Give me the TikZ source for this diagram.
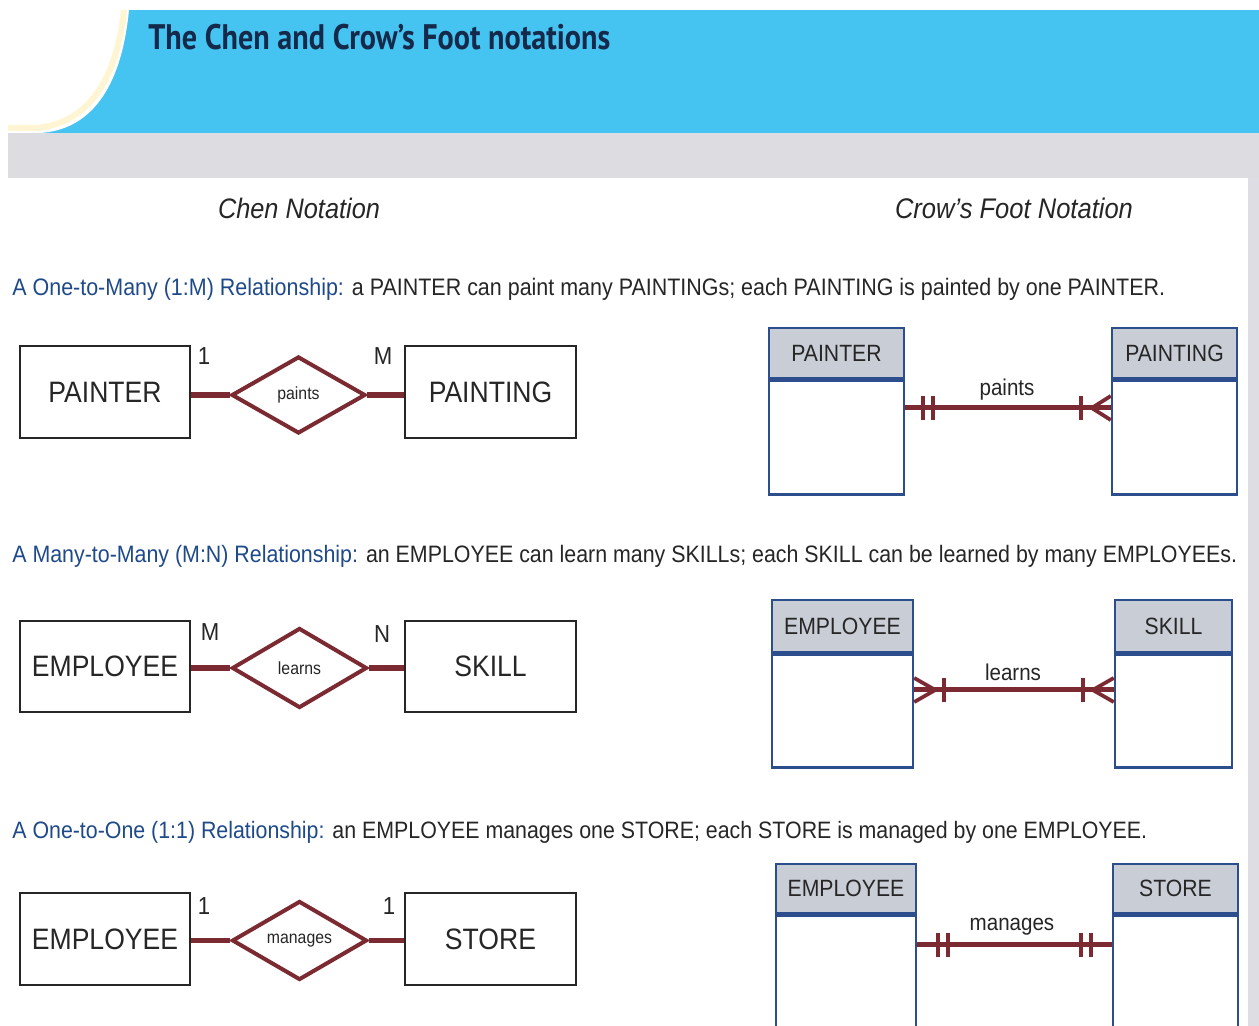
\documentclass[tikz,border=0pt]{standalone}
\usepackage{graphicx}
\usepackage{fontspec}
\setmainfont{Liberation Sans}
\newfontfamily\nar[FakeStretch=0.9]{Liberation Sans}
\newfontfamily\ttl[FakeStretch=0.85]{PT Sans}
\usetikzlibrary{shapes.geometric,calc}

\definecolor{banner}{HTML}{45C4F1}
\definecolor{band}{HTML}{DCDCE1}
\definecolor{strip}{HTML}{DDDDE3}
\definecolor{cream}{HTML}{FFF5D2}
\definecolor{relred}{HTML}{7A2A30}
\definecolor{cfblue}{HTML}{2C4E8C}
\definecolor{cfgray}{HTML}{C9CDD5}
\definecolor{capblue}{HTML}{1F4A8A}
\definecolor{textgray}{HTML}{262626}
\definecolor{titleblue}{HTML}{15294A}

\tikzset{
  chenent/.style={draw=black!85, line width=0.05cm, minimum width=3.4cm,
    minimum height=1.84cm, inner sep=0, text=textgray,
    font=\nar\fontsize{16.8}{18}\selectfont},
  rel/.style={diamond, draw=relred, line width=0.08cm, inner sep=0,
    minimum width=2.68cm, minimum height=1.54cm, text=textgray,
    font=\nar\fontsize{10}{12}\selectfont},
  card/.style={inner sep=0, text=textgray, font=\nar\fontsize{14}{16}\selectfont},
  chenline/.style={relred, line width=0.11cm},
  cfhead/.style={draw=cfblue, fill=cfgray, line width=0.05cm, inner sep=0,
    text=textgray, font=\nar\fontsize{13.4}{15}\selectfont},
  cfbody/.style={draw=cfblue, fill=white, line width=0.05cm, inner sep=0},
  cfline/.style={relred, line width=0.1cm},
  cfmark/.style={relred, line width=0.075cm},
  cflabel/.style={inner sep=0, text=textgray, font=\nar\fontsize{13}{15}\selectfont},
  caption/.style={anchor=west, inner sep=0, text=textgray},
  heading/.style={inner sep=0, text=textgray},
}

\begin{document}
\begin{tikzpicture}[x=0.02cm, y=-0.02cm]
\useasboundingbox (0,0) rectangle (1259,1026);
\fill[white] (0,0) rectangle (1259,1026);

% title banner
\fill[banner] (8,10) rectangle (1259,133);
\fill[white] (8,10) -- (129,10) .. controls (121,92) and (88,130) .. (40,133) -- (8,133) -- cycle;
\draw[cream, line width=0.12cm] (124,10) .. controls (116,86) and (84,124) .. (36,128) -- (8,128);
\fill[band] (8,133) rectangle (1259,178);
\fill[strip] (1248,178) rectangle (1259,1026);

\node[anchor=west, inner sep=0, text=titleblue] (title) at (148,37)
  {\resizebox{9.24cm}{!}{\ttl\bfseries The Chen and Crow’s Foot notations}};

% column headings
\node[heading] (chenhd) at (299,208)
  {\resizebox{3.24cm}{!}{\nar\itshape Chen Notation}};
\node[heading] (cfhd) at (1014,208)
  {\resizebox{4.76cm}{!}{\nar\itshape Crow’s Foot Notation}};

% captions
\node[caption] (cap1) at (12,289) {\resizebox{23.06cm}{!}{\nar
  \textcolor{capblue}{A One-to-Many (1:M) Relationship:} a PAINTER can paint many PAINTINGs; each PAINTING is painted by one PAINTER.}};
\node[caption] (cap2) at (12,556) {\resizebox{24.5cm}{!}{\nar
  \textcolor{capblue}{A Many-to-Many (M:N) Relationship:} an EMPLOYEE can learn many SKILLs; each SKILL can be learned by many EMPLOYEEs.}};
\node[caption] (cap3) at (12,832) {\resizebox{22.7cm}{!}{\nar
  \textcolor{capblue}{A One-to-One (1:1) Relationship:} an EMPLOYEE manages one STORE; each STORE is managed by one EMPLOYEE.}};

% ---------- Chen notation ----------
\node[chenent] (painter) at (105,392) {PAINTER};
\node[chenent, minimum width=3.42cm] (painting) at (490.5,392) {PAINTING};
\node[rel] (paints) at (298.5,395) {paints};
\draw[chenline] (paints.west) -- (paints.west -| painter.east);
\draw[chenline] (paints.east) -- (paints.east -| painting.west);
\node[card] (c1a) at (204,356) {1};
\node[card] (c1b) at (383,356) {M};

\node[chenent, minimum height=1.82cm] (emp1) at (105,666.5) {EMPLOYEE};
\node[chenent, minimum width=3.42cm, minimum height=1.82cm] (skill) at (490.5,666.5) {SKILL};
\node[rel, minimum width=2.7cm, minimum height=1.6cm] (learns) at (299.5,668) {learns};
\draw[chenline] (learns.west) -- (learns.west -| emp1.east);
\draw[chenline] (learns.east) -- (learns.east -| skill.west);
\node[card] (c2a) at (210,632) {M};
\node[card] (c2b) at (382,634) {N};

\node[chenent] (emp2) at (105,939) {EMPLOYEE};
\node[chenent, minimum width=3.42cm] (store) at (490.5,939) {STORE};
\node[rel, minimum width=2.7cm, minimum height=1.58cm] (manages) at (299.5,940.5) {manages};
\draw[chenline] (manages.west) -- (manages.west -| emp2.east);
\draw[chenline] (manages.east) -- (manages.east -| store.west);
\node[card] (c3a) at (204,906) {1};
\node[card] (c3b) at (389,906) {1};

% ---------- Crow's Foot notation ----------
% PAINTER paints PAINTING
\node[cfhead, minimum width=2.7cm, minimum height=1cm] (cfpainter) at (836.5,353) {PAINTER};
\node[cfbody, minimum width=2.7cm, minimum height=2.28cm, anchor=north] (cfpainterb) at (cfpainter.south) {};
\node[cfhead, minimum width=2.5cm, minimum height=1cm] (cfpainting) at (1174.5,353) {PAINTING};
\node[cfbody, minimum width=2.5cm, minimum height=2.28cm, anchor=north] (cfpaintingb) at (cfpainting.south) {};
\coordinate (row1) at (0,408);
\coordinate (a1) at (cfpainterb.east |- row1);
\coordinate (b1) at (cfpaintingb.west |- row1);
\draw[cfline] (a1) -- (b1);
\draw[cfmark] ($(a1)+(18,-12)$) -- ++(0,24) ($(a1)+(28,-12)$) -- ++(0,24);
\draw[cfmark] ($(b1)+(-30,-12)$) -- ++(0,24);
\draw[cfmark] ($(b1)+(0,-12)$) -- ($(b1)+(-19,0)$) -- ($(b1)+(0,12)$);
\node[cflabel] (cfr1) at (1007,390) {paints};

% EMPLOYEE learns SKILL
\node[cfhead, minimum width=2.82cm, minimum height=1.04cm] (cfemp1) at (842.5,626) {EMPLOYEE};
\node[cfbody, minimum width=2.82cm, minimum height=2.26cm, anchor=north] (cfemp1b) at (cfemp1.south) {};
\node[cfhead, minimum width=2.34cm, minimum height=1.04cm] (cfskill) at (1173.5,626) {SKILL};
\node[cfbody, minimum width=2.34cm, minimum height=2.26cm, anchor=north] (cfskillb) at (cfskill.south) {};
\coordinate (row2) at (0,690);
\coordinate (a2) at (cfemp1b.east |- row2);
\coordinate (b2) at (cfskillb.west |- row2);
\draw[cfline] (a2) -- (b2);
\draw[cfmark] ($(a2)+(0,-12)$) -- ($(a2)+(21,0)$) -- ($(a2)+(0,12)$);
\draw[cfmark] ($(a2)+(30,-12)$) -- ++(0,24);
\draw[cfmark] ($(b2)+(-31,-12)$) -- ++(0,24);
\draw[cfmark] ($(b2)+(0,-12)$) -- ($(b2)+(-21,0)$) -- ($(b2)+(0,12)$);
\node[cflabel] (cfr2) at (1013,672) {learns};

% EMPLOYEE manages STORE
\node[cfhead, minimum width=2.8cm, minimum height=0.98cm] (cfemp2) at (846,888.5) {EMPLOYEE};
\node[cfbody, minimum width=2.8cm, minimum height=2.5cm, anchor=north] (cfemp2b) at (cfemp2.south) {};
\node[cfhead, minimum width=2.5cm, minimum height=0.98cm] (cfstore) at (1175.5,888.5) {STORE};
\node[cfbody, minimum width=2.5cm, minimum height=2.5cm, anchor=north] (cfstoreb) at (cfstore.south) {};
\coordinate (row3) at (0,945);
\coordinate (a3) at (cfemp2b.east |- row3);
\coordinate (b3) at (cfstoreb.west |- row3);
\draw[cfline] (a3) -- (b3);
\draw[cfmark] ($(a3)+(21,-12)$) -- ++(0,24) ($(a3)+(31,-12)$) -- ++(0,24);
\draw[cfmark] ($(b3)+(-31,-12)$) -- ++(0,24) ($(b3)+(-21,-12)$) -- ++(0,24);
\node[cflabel] (cfr3) at (1012,927) {manages};
\end{tikzpicture}
\end{document}
